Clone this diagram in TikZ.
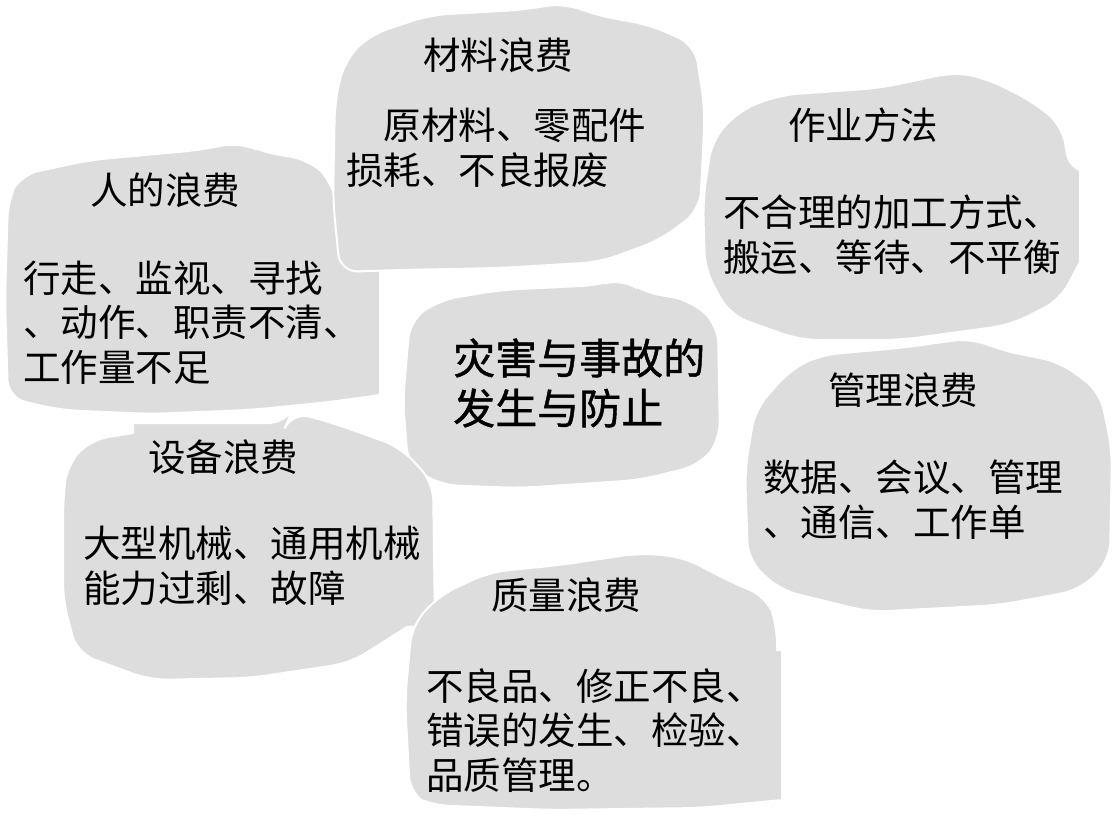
\documentclass[tikz,border=0pt]{standalone}
\usepackage{fontspec}
\setmainfont{Noto Sans CJK SC}
\newfontfamily\heavycjk[FakeBold=1]{Noto Sans CJK SC}
\definecolor{blobgray}{RGB}{221,221,221}

\begin{document}
\begin{tikzpicture}[x=1pt,y=-1pt,
    blob/.style={fill=blobgray, draw=white, line width=2pt, rounded corners=18pt},
    title/.style={anchor=west, inner sep=0pt, font=\fontsize{37.5}{44}\selectfont},
    body/.style={anchor=base west, inner sep=0pt, align=left, font=\fontsize{37.5}{44.5}\selectfont},
    centre/.style={anchor=base west, inner sep=0pt, align=left, font=\heavycjk\fontsize{42}{50}\selectfont}]
    \useasboundingbox (0,0) rectangle (1115,821);
    % blobs
    \fill[blob] (20,175) -- (90,160) -- (200,150) -- (240,142) -- (262,152) -- (310,160) -- (332,182)
        -- (348,253) [sharp corners] -- (380,253) -- (380,395) [rounded corners=18pt] -- (330,402) -- (250,410)
        -- (150,414) -- (60,410) -- (8,398) -- (5,300) -- (8,200) -- cycle;
    \fill[blob] (345,60) -- (370,35) -- (430,15) -- (520,10) -- (565,3) -- (595,15) -- (650,25) -- (695,45)
        -- (705,110) -- (700,210) -- (660,240) -- (600,262) -- (500,268) -- (400,270) -- (340,272) -- (333,200) -- (335,100) -- cycle;
    \fill[blob] (712,140) -- (740,110) -- (780,95) -- (880,88) -- (955,72) -- (985,78) -- (1030,100) -- (1062,125)
        -- (1070,172) [sharp corners] -- (1080,172) -- (1080,262) [rounded corners=18pt] -- (1060,300) -- (1010,325)
        -- (900,340) -- (800,340) -- (730,315) -- (705,270) -- (703,200) -- cycle;
    \fill[blob] (755,410) -- (790,370) -- (820,355) -- (900,348) -- (972,338) -- (1000,350) -- (1060,362) -- (1100,392)
        -- (1112,450) -- (1110,560) -- (1080,590) -- (1000,605) -- (870,612) -- (780,590) -- (748,560) -- (745,470) -- cycle;
    \fill[blob] (410,320) -- (440,300) -- (500,290) -- (600,285) -- (622,278) -- (642,292) -- (690,300) -- (718,325)
        -- (720,440) -- (700,465) -- (640,480) -- (520,488) -- (440,485) -- (408,465) -- (403,400) -- cycle;
    \fill[blob] (67,465) -- (90,440) [sharp corners] -- (133,433) -- (133,423) [rounded corners=18pt] -- (287,423)
        -- (292,412) -- (333,423) -- (400,447) -- (433,482) [sharp corners] -- (435,625) -- (407,627)
        [rounded corners=18pt] -- (350,663) -- (250,678) -- (150,680) -- (77,653) -- (63,600) -- (63,500) -- cycle;
    \fill[blob] (412,625) -- (440,595) -- (490,572) -- (560,565) -- (640,553) -- (683,557) -- (733,583) -- (767,597)
        -- (777,625) [sharp corners] -- (777,650) -- (782,650) -- (782,800) [rounded corners=18pt] -- (700,808)
        -- (550,810) -- (430,805) -- (410,795) -- (405,700) -- cycle;
    % texts
    \node[title] (ren) at (90,190) {人的浪费};
    \node[body] (renx) at (23,381) {行走、监视、寻找\\、动作、职责不清、\\工作量不足};
    \node[title] (cai) at (423,55) {材料浪费};
    \node[body] (caix) at (346,184) {\hspace*{37.5pt}原材料、零配件\\损耗、不良报废};
    \node[title] (fang) at (788,125) {作业方法};
    \node[body] (fangx) at (723,271) {不合理的加工方式、\\搬运、等待、不平衡};
    \node[title] (guan) at (828,390) {管理浪费};
    \node[body] (guanx) at (763,536) {数据、会议、管理\\、通信、工作单};
    \node[centre] (zai) at (453,424) {灾害与事故的\\发生与防止};
    \node[title] (she) at (148,457) {设备浪费};
    \node[body] (shex) at (83,602) {大型机械、通用机械\\能力过剩、故障};
    \node[title] (zhi) at (491,595) {质量浪费};
    \node[body] (zhix) at (426,789) {不良品、修正不良、\\错误的发生、检验、\\品质管理。};
\end{tikzpicture}
\end{document}
